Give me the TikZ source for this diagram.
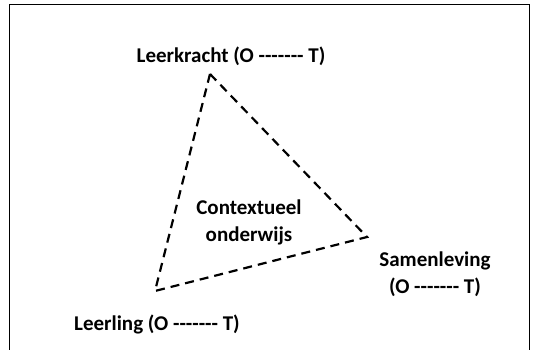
\documentclass[tikz,border=0pt]{standalone}
\usepackage{fontspec}
\setmainfont{Carlito}[Ligatures=TeXOff]
\begin{document}
\begin{tikzpicture}[x=1pt,y=-1pt,
  lbl/.style={font=\bfseries\fontsize{21}{27}\selectfont, inner sep=0pt, align=center},
  edge/.style={line width=2.2pt, dash pattern=on 9pt off 6pt}]
\useasboundingbox (0,0) rectangle (533,350);
\fill[white] (0,0) rectangle (533,350);
\draw[line width=0.8pt] (9,350) -- (9,4) -- (529,4) -- (529,350);
\coordinate (T) at (210,74);
\coordinate (R) at (367,237);
\coordinate (L) at (155,291);
\draw[edge, line join=miter] (T) -- (R) -- (L) -- cycle;
\node[lbl] (lk) at (231,56) {Leerkracht (O ------- T)};
\node[lbl] (sl) at (435,274) {Samenleving\\(O ------- T)};
\node[lbl] (ll) at (157,324) {Leerling (O ------- T)};
\node[lbl] (co) at (249,222) {Contextueel\\onderwijs};
\end{tikzpicture}
\end{document}
